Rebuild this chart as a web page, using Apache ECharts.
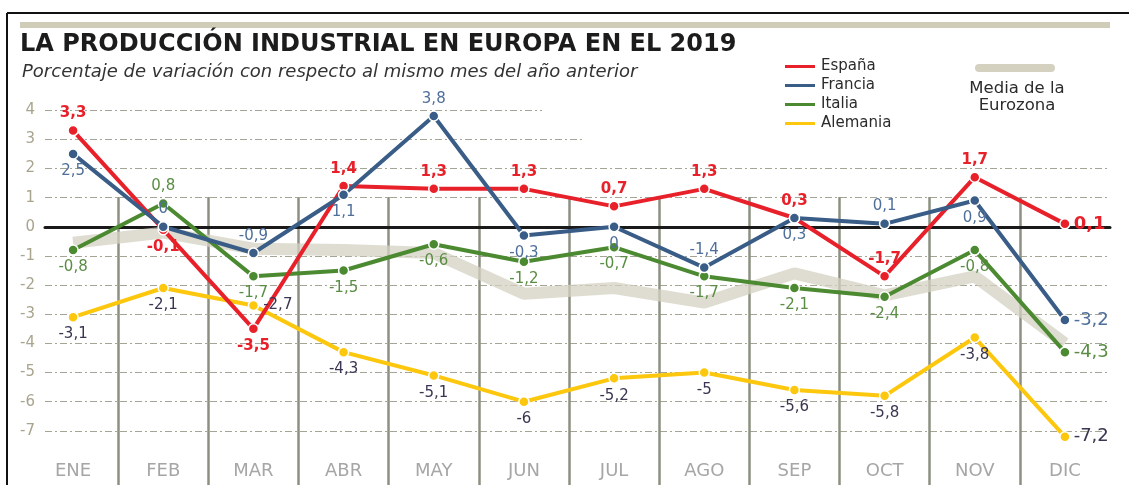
<!DOCTYPE html>
<html>
<head>
<meta charset="utf-8">
<script src="https://cdn.jsdelivr.net/npm/echarts@6/dist/echarts.min.js"></script>
<style>
  html, body { margin: 0; padding: 0; background: #fff; }
  #chart { width: 1129px; height: 485px; }
</style>
</head>
<body>
<div id="chart"></div>
<script>
  // datos (variación % interanual)
  const months = ['ENE', 'FEB', 'MAR', 'ABR', 'MAY', 'JUN', 'JUL', 'AGO', 'SEP', 'OCT', 'NOV', 'DIC']
  const espana = [3.3, -0.1, -3.5, 1.4, 1.3, 1.3, 0.7, 1.3, 0.3, -1.7, 1.7, 0.1]
  const francia = [2.5, 0, -0.9, 1.1, 3.8, -0.3, 0, -1.4, 0.3, 0.1, 0.9, -3.2]
  const italia = [-0.8, 0.8, -1.7, -1.5, -0.6, -1.2, -0.7, -1.7, -2.1, -2.4, -0.8, -4.3]
  const alemania = [-3.1, -2.1, -2.7, -4.3, -5.1, -6, -5.2, -5, -5.6, -5.8, -3.8, -7.2]
  const mediaEurozona = [-0.55, -0.2, -0.75, -0.8, -0.9, -2.3, -2.1, -2.6, -1.6, -2.35, -1.7, -4.0]
  const yTicks = [-7, -6, -5, -4, -3, -2, -1, 0, 1, 2, 3, 4]

  // posición de las etiquetas de cada punto
  const espanaPos = ['top', 'bottom', 'bottom', 'top', 'top', 'top', 'top', 'top', 'top', 'top', 'top', 'right']
  const franciaPos = ['bottom', 'top', 'top', 'bottom', 'top', 'bottom', 'bottom', 'top', 'bottom', 'top', 'bottom', 'right']
  const italiaPos = ['bottom', 'top', 'bottom', 'bottom', 'bottom', 'bottom', 'bottom', 'bottom', 'bottom', 'bottom', 'bottom', 'right']
  const alemaniaPos = ['bottom', 'bottom', 'right', 'bottom', 'bottom', 'bottom', 'bottom', 'bottom', 'bottom', 'bottom', 'bottom', 'right']

  const FONT = '"DejaVu Sans"'
  const fmt = (v) => String(v).replace('.', ',')

  const points = (values, positions, bigSize) =>
    values.map((v, i) => ({
      value: v,
      label: i === values.length - 1
        ? { position: positions[i], fontSize: bigSize, distance: 3 }
        : { position: positions[i] },
    }))

  const lineSeries = (name, values, positions, color, labelColor, bold) => ({
    name,
    type: 'line',
    xAxisIndex: 0,
    yAxisIndex: 0,
    data: points(values, positions, 18),
    symbol: 'circle',
    symbolSize: 10,
    lineStyle: { width: 4, color },
    itemStyle: { color, borderColor: '#fff', borderWidth: 1.5 },
    label: {
      show: true,
      formatter: (p) => fmt(p.value),
      color: labelColor,
      fontFamily: FONT,
      fontSize: 15,
      fontWeight: bold ? 'bold' : 'normal',
      distance: 4,
    },
    emphasis: { disabled: true },
    z: 3,
  })

  const chart = echarts.init(document.getElementById('chart'))

  chart.setOption({
    animation: false,
    textStyle: { fontFamily: FONT },
    grid: [
      { left: 28, right: 19, top: 81, bottom: 25 },   // datos
      { left: 45, right: 19, top: 81, bottom: 25 },   // líneas horizontales
      { left: 28, right: 19, top: 197, bottom: 0 },   // líneas verticales
    ],
    xAxis: [
      {
        gridIndex: 0,
        type: 'category',
        data: months,
        boundaryGap: true,
        axisLine: { show: false },
        axisTick: { show: false },
        splitLine: { show: false },
        axisLabel: { color: '#a6a6a6', fontSize: 18, margin: 2, fontFamily: FONT },
      },
      {
        gridIndex: 1,
        type: 'value',
        min: 0,
        max: 1,
        axisLine: { show: true, onZero: true, lineStyle: { color: '#1a1a1a', width: 3 } },
        axisTick: { show: false },
        axisLabel: { show: false },
        splitLine: { show: false },
      },
      {
        gridIndex: 2,
        type: 'category',
        data: months,
        boundaryGap: true,
        axisLine: { show: false },
        axisTick: { show: false },
        axisLabel: { show: false },
        splitLine: {
          show: true,
          interval: 0,
          showMinLine: false,
          showMaxLine: false,
          lineStyle: { color: '#8d9080', width: 2.5 },
        },
      },
    ],
    yAxis: [
      { gridIndex: 0, type: 'value', min: -8, max: 5, interval: 1, show: false },
      {
        gridIndex: 1,
        type: 'value',
        min: -8,
        max: 5,
        interval: 1,
        axisLine: { show: false },
        axisTick: { show: false },
        axisLabel: {
          color: '#a8a48e',
          fontSize: 15,
          margin: 10,
          fontFamily: FONT,
          formatter: (v) => (yTicks.includes(v) ? String(v) : ''),
        },
        splitLine: {
          show: true,
          showMinLine: false,
          showMaxLine: false,
          lineStyle: { color: '#a4a595', width: 1, type: [7, 3, 2, 3] },
        },
      },
      { gridIndex: 2, type: 'value', min: 0, max: 1, show: false },
    ],
    legend: {
      orient: 'vertical',
      left: 778,
      top: 54,
      data: ['España', 'Francia', 'Italia', 'Alemania'],
      icon: 'rect',
      itemWidth: 32,
      itemHeight: 5,
      itemGap: 4,
      selectedMode: false,
      textStyle: { color: '#2b2b2b', fontSize: 15, lineHeight: 15, fontFamily: FONT },
    },
    graphic: [
      // marco
      { type: 'line', z: 10, shape: { x1: 7, y1: 13, x2: 1129, y2: 13 }, style: { stroke: '#111', lineWidth: 2 } },
      { type: 'line', z: 10, shape: { x1: 7, y1: 13, x2: 7, y2: 485 }, style: { stroke: '#111', lineWidth: 2 } },
      { type: 'rect', z: 10, shape: { x: 20, y: 22, width: 1090, height: 6 }, style: { fill: '#cfccb8' } },
      // título
      {
        type: 'text', z: 10, left: 20, top: 33,
        style: { text: 'LA PRODUCCIÓN INDUSTRIAL EN EUROPA EN EL 2019', fill: '#1c1c1c', font: 'bold 24px "DejaVu Sans"' },
      },
      {
        type: 'text', z: 10, left: 22, top: 63,
        style: { text: 'Porcentaje de variación con respecto al mismo mes del año anterior', fill: '#333', font: 'italic 18px "DejaVu Sans"' },
      },
      // tapa de las líneas bajo la leyenda
      { type: 'rect', z: 1, shape: { x: 542, y: 100, width: 580, height: 25 }, style: { fill: '#fff' } },
      { type: 'rect', z: 1, shape: { x: 584, y: 125, width: 540, height: 24 }, style: { fill: '#fff' } },
      // leyenda de la media
      { type: 'rect', z: 10, shape: { x: 975, y: 64, width: 80, height: 8, r: 4 }, style: { fill: '#d4d1c1' } },
      {
        type: 'text', z: 10, x: 1017, y: 80,
        style: { text: 'Media de la\nEurozona', fill: '#2b2b2b', font: '16.5px "DejaVu Sans"', align: 'center', verticalAlign: 'top', lineHeight: 17 },
      },
    ],
    series: [
      {
        name: 'Media de la Eurozona',
        type: 'line',
        xAxisIndex: 0,
        yAxisIndex: 0,
        data: mediaEurozona,
        symbol: 'none',
        lineStyle: { width: 12, color: 'rgba(212,209,193,0.75)' },
        emphasis: { disabled: true },
        z: 2,
      },
      lineSeries('Alemania', alemania, alemaniaPos, '#fcc70c', '#3b3552', false),
      lineSeries('Italia', italia, italiaPos, '#4c8a32', '#5a8d44', false),
      lineSeries('España', espana, espanaPos, '#e8202a', '#e8202a', true),
      lineSeries('Francia', francia, franciaPos, '#395d87', '#4f6f9a', false),
    ],
  })
</script>
</body>
</html>
